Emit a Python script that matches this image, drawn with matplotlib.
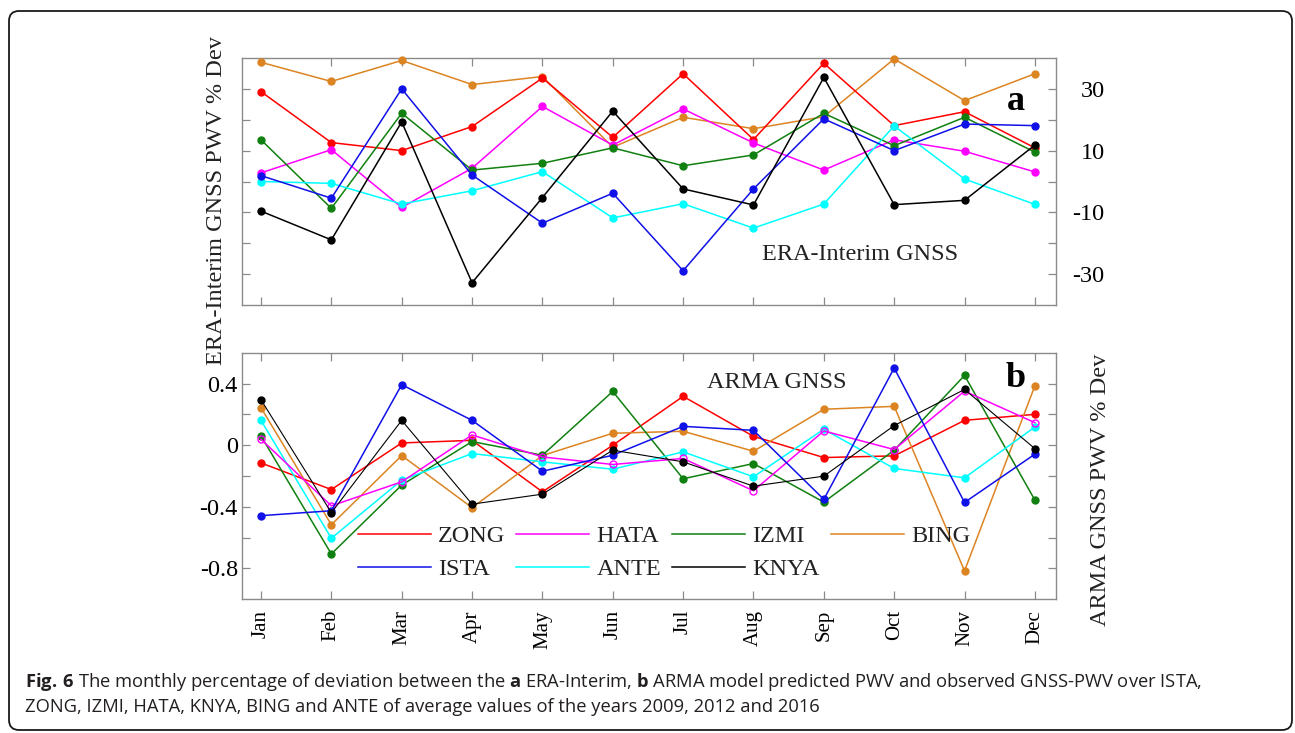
import numpy as np
import matplotlib
matplotlib.use('Agg')
import matplotlib.pyplot as plt
from matplotlib.patches import FancyBboxPatch
from matplotlib.lines import Line2D

plt.rcParams['font.family'] = 'Liberation Serif'
plt.rcParams['mathtext.fontset'] = 'custom'
plt.rcParams['mathtext.rm'] = 'Open Sans'
plt.rcParams['mathtext.bf'] = 'Open Sans:bold'

months = ['Jan', 'Feb', 'Mar', 'Apr', 'May', 'Jun',
          'Jul', 'Aug', 'Sep', 'Oct', 'Nov', 'Dec']

# legend order (filled column by column)
stations = ['ZONG', 'ISTA', 'HATA', 'ANTE', 'IZMI', 'KNYA', 'BING']
colors = {'ZONG': '#ff0000', 'ISTA': '#1010e8', 'HATA': '#ff00ff',
          'ANTE': '#00ffff', 'IZMI': '#108010', 'KNYA': '#000000',
          'BING': '#dc8422'}

# ERA-Interim vs GNSS, % deviation
era_zong = [29.1, 12.6, 10.0, 17.8, 33.5, 14.3, 34.9, 13.6, 38.3, 18.1, 22.6, 10.9]
era_ista = [1.9, -5.4, 30.0, 2.1, -13.5, -3.8, -28.9, -2.4, 20.3, 10.0, 18.6, 18.1]
era_hata = [2.8, 10.3, -8.4, 4.3, 24.3, 11.8, 23.5, 12.5, 3.7, 13.5, 9.8, 3.1]
era_ante = [0.0, -0.6, -7.3, -3.0, 3.2, -11.8, -7.2, -15.1, -7.3, 18.0, 0.8, -7.4]
era_izmi = [13.5, -8.7, 22.1, 3.7, 5.9, 10.9, 5.1, 8.6, 22.1, 11.6, 20.8, 9.5]
era_knya = [-9.6, -18.9, 19.3, -32.8, -5.2, 22.8, -2.4, -7.6, 33.7, -7.5, -6.1, 11.8]
era_bing = [38.6, 32.4, 39.2, 31.4, 34.0, 11.1, 20.8, 17.1, 21.0, 39.7, 26.2, 34.9]

# ARMA model vs GNSS, % deviation
arma_zong = [-0.115, -0.288, 0.015, 0.032, -0.303, 0.0, 0.318, 0.058, -0.08, -0.069, 0.162, 0.201]
arma_ista = [-0.458, -0.426, 0.394, 0.162, -0.169, -0.065, 0.123, 0.097, -0.352, 0.502, -0.372, -0.058]
arma_hata = [0.039, -0.394, -0.238, 0.067, -0.076, -0.125, -0.086, -0.296, 0.093, -0.028, 0.352, 0.147]
arma_ante = [0.162, -0.605, -0.227, -0.054, -0.108, -0.156, -0.043, -0.205, 0.104, -0.151, -0.212, 0.119]
arma_izmi = [0.06, -0.707, -0.259, 0.024, -0.065, 0.35, -0.218, -0.119, -0.37, -0.032, 0.454, -0.357]
arma_knya = [0.296, -0.439, 0.162, -0.383, -0.318, -0.032, -0.108, -0.266, -0.201, 0.128, 0.363, -0.022]
arma_bing = [0.244, -0.517, -0.067, -0.406, -0.067, 0.078, 0.091, -0.039, 0.234, 0.253, -0.817, 0.387]

era = {'ZONG': era_zong, 'ISTA': era_ista, 'HATA': era_hata, 'ANTE': era_ante,
       'IZMI': era_izmi, 'KNYA': era_knya, 'BING': era_bing}
arma = {'ZONG': arma_zong, 'ISTA': arma_ista, 'HATA': arma_hata, 'ANTE': arma_ante,
        'IZMI': arma_izmi, 'KNYA': arma_knya, 'BING': arma_bing}

x = np.arange(len(months))
W, H = 1295, 733

fig = plt.figure(figsize=(W / 100, H / 100), dpi=100)
ax_a = fig.add_axes([242 / W, 1 - 305 / H, 814 / W, 247 / H])
ax_b = fig.add_axes([242 / W, 1 - 599 / H, 814 / W, 246 / H])


def style_axes(ax):
    for sp in ax.spines.values():
        sp.set_color('#8a8a8a')
        sp.set_linewidth(1.0)
    ax.tick_params(which='both', direction='in', length=6, width=0.9,
                   color='#8a8a8a', top=True, bottom=True, left=True,
                   right=True, labelsize=17.5)
    ax.set_xlim(-0.27, 11.3)
    ax.set_xticks(x)


# panel a
style_axes(ax_a)
for s in ['BING', 'ZONG', 'HATA', 'IZMI', 'ANTE', 'ISTA', 'KNYA']:
    ax_a.plot(x, era[s], color=colors[s], lw=1.1, marker='o', ms=5,
              clip_on=False, zorder=3)
ax_a.set_ylim(-40, 40)
ax_a.set_yticks([-30, -10, 10, 30], ['-30', '-10', '10', '30'])
ax_a.set_yticks([-20, 0, 20], minor=True)
ax_a.tick_params(axis='y', which='both', labelleft=False, labelright=True, pad=35)
for t in ax_a.get_yticklabels():
    t.set_ha('right')
ax_a.tick_params(axis='x', labelbottom=False)
ax_a.text(0.639, 0.206, 'ERA-Interim GNSS', transform=ax_a.transAxes,
          fontsize=17.5, color='#222222', va='center', ha='left')
ax_a.text(0.951, 0.789, 'a', transform=ax_a.transAxes, fontsize=26,
          fontweight='bold', ha='center', va='baseline')

# panel b
style_axes(ax_b)
for s in ['ZONG', 'BING', 'IZMI', 'ANTE', 'HATA', 'ISTA', 'KNYA']:
    lw = 0.8 if s == 'KNYA' else 1.1
    mfc = 'none' if s == 'HATA' else colors[s]
    ax_b.plot(x, arma[s], color=colors[s], lw=lw, marker='o', ms=5,
              mfc=mfc, mec=colors[s], clip_on=False, zorder=3)
ax_b.set_ylim(-1.0, 0.6)
ax_b.set_yticks([-0.8, -0.4, 0, 0.4], ['-0.8', '-0.4', '0', '0.4'])
ax_b.set_yticks([-0.6, -0.2, 0.2], minor=True)
ax_b.tick_params(axis='y', which='both', pad=3)
ax_b.set_xticks(x, months, rotation=90, fontsize=15)
ax_b.tick_params(axis='x', pad=8)
ax_b.text(0.571, 0.882, 'ARMA GNSS', transform=ax_b.transAxes,
          fontsize=17.5, color='#222222', va='center', ha='left')
ax_b.text(0.951, 0.862, 'b', transform=ax_b.transAxes, fontsize=26,
          fontweight='bold', ha='center', va='baseline')

handles = [Line2D([], [], color=colors[s], lw=1.1) for s in stations]
ax_b.legend(handles, stations, ncol=4, loc='upper left',
            bbox_to_anchor=(0.1425, 0.30), frameon=False, fontsize=17.5,
            handlelength=3.0, handletextpad=0.3, columnspacing=0.45,
            labelspacing=0.45, borderpad=0, borderaxespad=0,
            labelcolor='#222222')

# axis titles
fig.text(217 / W, 1 - 201 / H, 'ERA-Interim GNSS PWV % Dev', rotation=90,
         fontsize=17.5, ha='center', va='center', color='#222222')
fig.text(1100 / W, 1 - 490 / H, 'ARMA GNSS PWV % Dev', rotation=90,
         fontsize=17.5, ha='center', va='center', color='#222222')

# caption
cap1 = (r'$\mathbf{Fig.\,6}$ The monthly percentage of deviation between the '
        r'$\mathbf{a}$ ERA-Interim, $\mathbf{b}$ ARMA model predicted PWV and '
        r'observed GNSS-PWV over ISTA,')
cap2 = ('ZONG, IZMI, HATA, KNYA, BING and ANTE of average values of the '
        'years 2009, 2012 and 2016')
fig.text(25 / W, 1 - 682 / H, cap1, family='Open Sans', fontsize=13.2,
         color='#231f20', ha='left', va='center')
fig.text(25 / W, 1 - 707 / H, cap2, family='Open Sans', fontsize=13.2,
         color='#231f20', ha='left', va='center')

# rounded frame
frame = FancyBboxPatch((0.09, 0.03), 12.83, 7.19,
                       boxstyle='round,pad=0,rounding_size=0.1',
                       transform=fig.dpi_scale_trans, fill=False,
                       ec='#1a1a1a', lw=1.3)
fig.patches.append(frame)

fig.savefig('out.png', dpi=100)
